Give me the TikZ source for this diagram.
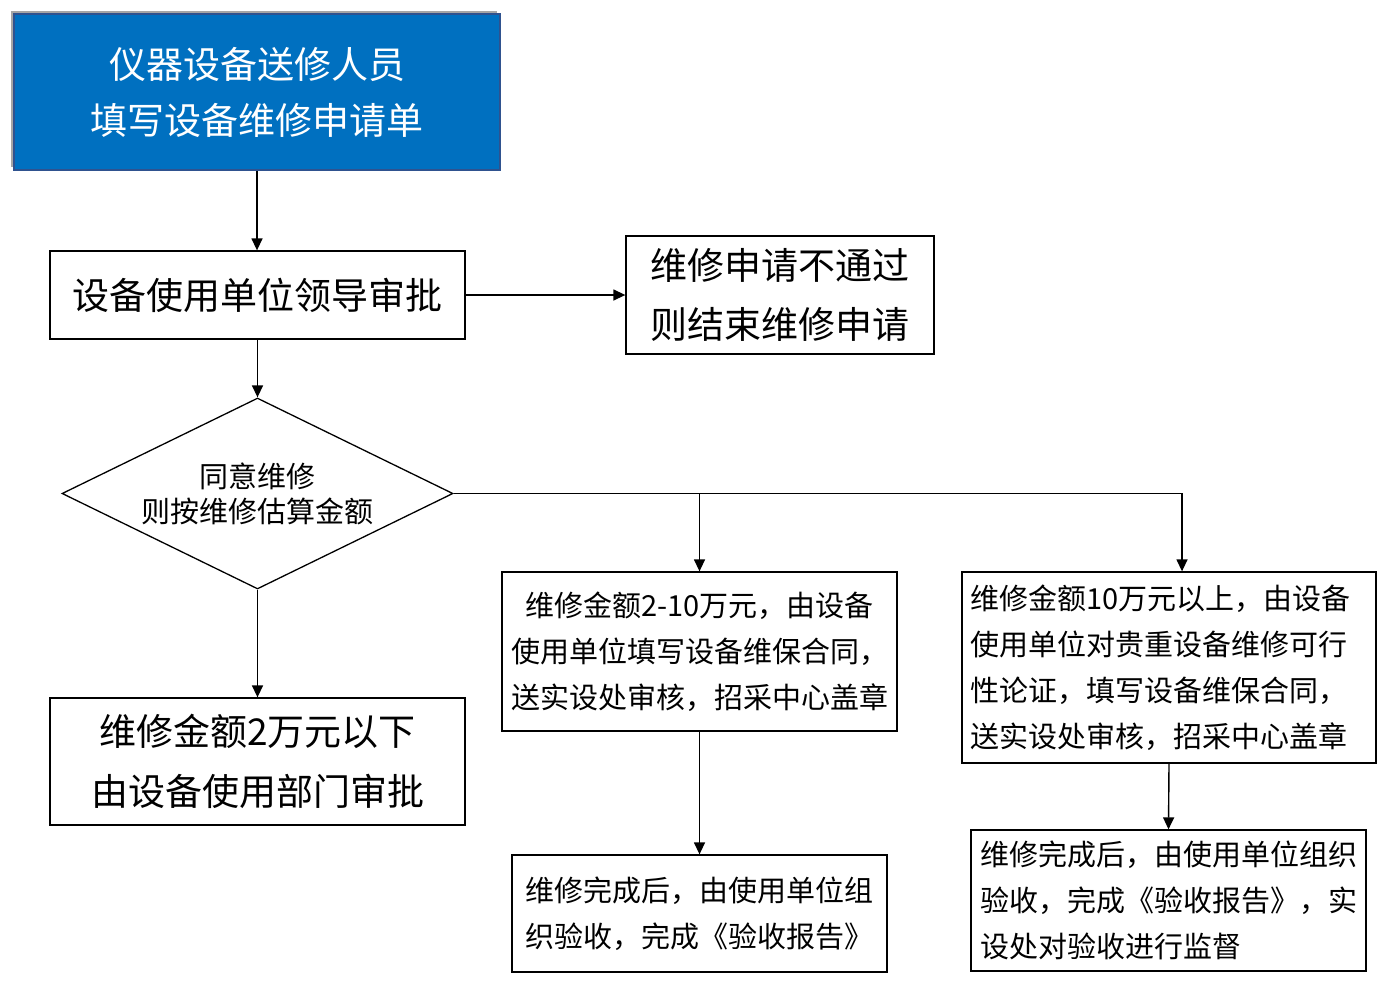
\documentclass[tikz,border=0pt]{standalone}
\usepackage{fontspec}
\newfontfamily\cjk{Noto Sans CJK SC}
\usetikzlibrary{arrows.meta,shadows,shapes.geometric}
\definecolor{topblue}{HTML}{0070C0}
\definecolor{topedge}{HTML}{2F528F}
\begin{document}
\begin{tikzpicture}[x=1pt,y=-1pt,
  box/.style={draw=black,line width=1.3pt,inner sep=0pt,align=center,
    font=\cjk\fontsize{29}{46}\selectfont},
  bigtext/.style={font=\cjk\fontsize{37}{59}\selectfont},
  leftbox/.style={box,align=left,inner xsep=8pt},
  arr/.style={line width=1.4pt,-{Triangle[length=12pt,width=11pt]}},
  plain/.style={line width=1.4pt}]
\useasboundingbox (0,0) rectangle (1378,983);

\node[box, draw=topedge, fill=topblue, text=white,
  font=\cjk\fontsize{37}{56}\selectfont,
  minimum width=486pt, minimum height=156pt,
  drop shadow={shadow xshift=-3pt, shadow yshift=3pt, fill=black, opacity=0.35}]
  (start) at (257,92) {仪器设备送修人员\\填写设备维修申请单};

\node[box, bigtext, minimum width=415pt, minimum height=88pt]
  (b2) at (257.5,295) {设备使用单位领导审批};

\node[box, bigtext, minimum width=308pt, minimum height=118pt]
  (b3) at (780,295) {维修申请不通过\\则结束维修申请};

\node[draw=black, line width=1.3pt, diamond, aspect=2.05, inner sep=0pt,
  minimum width=391pt, minimum height=191pt, align=center,
  font=\cjk\fontsize{29}{35}\selectfont]
  (dec) at (257.5,493.5) {同意维修\\则按维修估算金额};

\node[box, minimum width=395pt, minimum height=159pt]
  (b4) at (699.5,651.5) {维修金额2-10万元，由设备\\使用单位填写设备维保合同，\\送实设处审核，招采中心盖章};

\node[leftbox, text width=398pt, minimum width=414pt, minimum height=191pt]
  (b5) at (1169,667.5) {维修金额10万元以上，由设备\\使用单位对贵重设备维修可行\\性论证，填写设备维保合同，\\送实设处审核，招采中心盖章};

\node[box, font=\cjk\fontsize{37}{60}\selectfont, minimum width=415pt, minimum height=127pt]
  (b6) at (257.5,761.5) {维修金额2万元以下\\由设备使用部门审批};

\node[box, align=left, minimum width=375pt, minimum height=117pt]
  (b7) at (699.5,913.5) {维修完成后，由使用单位组\\织验收，完成《验收报告》};

\node[leftbox, inner xsep=9pt, text width=377pt, minimum width=395pt, minimum height=141pt]
  (b8) at (1168.5,900.5) {维修完成后，由使用单位组织\\验收，完成《验收报告》，实\\设处对验收进行监督};

\coordinate (b5in) at ([xshift=13pt]b5.north);

\draw[arr] (start.south) -- (start.south |- b2.north);
\draw[arr] (b2.east) -- (b3.west);
\draw[arr] (b2.south) -- (dec.north);
\draw[arr] (dec.south) -- (b6.north);
\draw[arr] (dec.east) -| (b5in);
\draw[arr] (dec.east -| b4.north) -- (b4.north);
\draw[arr] (b4.south) -- (b7.north);
\draw[arr] (b5.south) -- (b8.north);
\end{tikzpicture}
\end{document}
